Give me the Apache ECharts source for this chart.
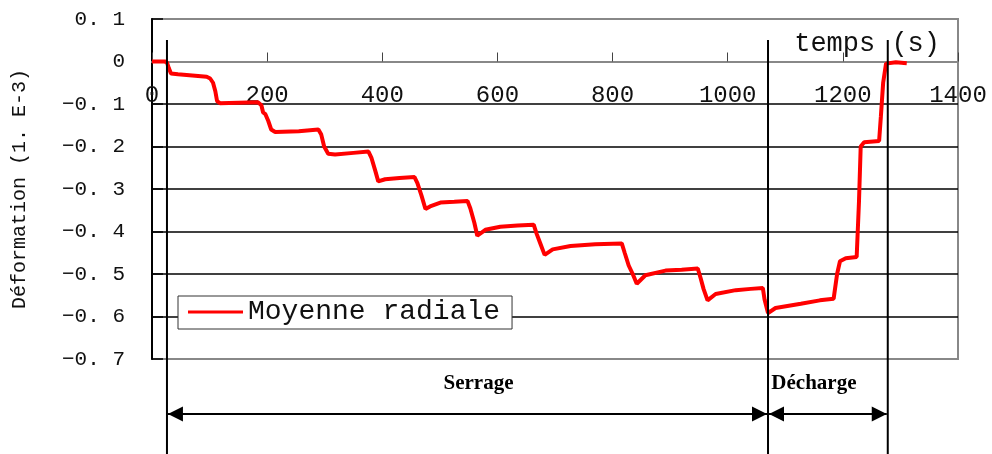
<!DOCTYPE html>
<html>
<head>
<meta charset="utf-8">
<script src="https://cdn.jsdelivr.net/npm/echarts@6/dist/echarts.min.js"></script>
<style>
  html, body { margin: 0; padding: 0; background: #fff; }
  #chart { width: 992px; height: 454px; }
</style>
</head>
<body>
<div id="chart"></div>
<script>
// Radial strain over time (seconds), mean of the radial gauges
const times = [0, 22, 26, 29, 33, 45, 70, 95, 101, 106, 110, 113, 118, 150, 184, 190, 193, 197, 202, 207,
  214, 255, 289, 294, 299, 306, 318, 350, 376, 381, 388, 393, 405, 430, 456, 461, 468, 475, 483, 501,
  525, 548, 553, 560, 565, 579, 605, 635, 663, 668, 675, 682, 696, 727, 770, 816, 821, 828, 835, 842,
  857, 892, 920, 948, 953, 958, 965, 979, 1014, 1040, 1061, 1064, 1070, 1083, 1127, 1160, 1184, 1190, 1195, 1205,
  1224, 1228, 1231, 1237, 1263, 1266, 1270, 1275, 1292, 1311];
const meanRadial = [0, 0, -0.002, -0.015, -0.028, -0.03, -0.033, -0.036, -0.04, -0.05,
  -0.07, -0.093, -0.098, -0.097, -0.096, -0.103, -0.12, -0.124, -0.14, -0.16,
  -0.166, -0.164, -0.16, -0.172, -0.2, -0.217, -0.219, -0.215, -0.212, -0.226,
  -0.258, -0.282, -0.277, -0.274, -0.272, -0.286, -0.315, -0.347, -0.341, -0.332,
  -0.33, -0.328, -0.346, -0.38, -0.41, -0.396, -0.389, -0.386, -0.384, -0.405,
  -0.43, -0.455, -0.442, -0.434, -0.43, -0.428, -0.45, -0.48, -0.5, -0.523,
  -0.503, -0.492, -0.49, -0.487, -0.51, -0.535, -0.562, -0.547, -0.538, -0.535,
  -0.533, -0.56, -0.592, -0.58, -0.57, -0.562, -0.558, -0.5, -0.47, -0.463,
  -0.46, -0.33, -0.2, -0.19, -0.187, -0.13, -0.05, -0.005, -0.002, -0.004];

const yTickLabels = ['\u22120. 7', '\u22120. 6', '\u22120. 5', '\u22120. 4', '\u22120. 3', '\u22120. 2', '\u22120. 1', '0', '0. 1'];
const xTickLabels = ['0', '200', '400', '600', '800', '1000', '1200', '1400'];

// Phase boundaries (s) and phase names
const phaseBounds = [26, 1070, 1278];
const phaseNames = ['Serrage', 'D\u00e9charge'];

const seriesName = 'Moyenne radiale';
const mono = '"Liberation Mono", "DejaVu Sans Mono", monospace';
const serif = '"Liberation Serif", "DejaVu Serif", serif';

const yMin = -0.7, yMax = 0.1;
const gridTop = 19, gridBottom = 95, chartH = 454;

const chart = echarts.init(document.getElementById('chart'), null, { renderer: 'canvas' });

// the time axis sits on the zero strain line; its offset from the top edge of the grid
const plotH = chartH - gridTop - gridBottom;
const zeroOffset = -plotH * (yMax - 0) / (yMax - yMin);

chart.setOption({
  animation: false,
  backgroundColor: '#ffffff',
  grid: {
    left: 152, right: 34, top: gridTop, bottom: gridBottom,
    show: true, borderColor: '#888888', borderWidth: 2, backgroundColor: 'transparent'
  },
  legend: {
    data: [seriesName],
    left: 178, top: 296,
    orient: 'horizontal',
    icon: 'rect',
    itemWidth: 55, itemHeight: 3,
    padding: [2, 12, 3, 10],
    backgroundColor: '#ffffff',
    borderColor: '#333333', borderWidth: 1, borderRadius: 0,
    textStyle: { fontFamily: mono, fontSize: 28, color: '#111', lineHeight: 28 }
  },
  xAxis: {
    type: 'value',
    position: 'top',
    offset: zeroOffset,
    min: 0, max: 1400, interval: 200,
    name: 'temps (s)',
    nameLocation: 'end',
    nameGap: -18,
    nameTextStyle: {
      fontFamily: mono, fontSize: 27, color: '#111',
      align: 'right', verticalAlign: 'bottom', lineHeight: 27, padding: [0, 0, 4, 0]
    },
    axisLine: { onZero: false, lineStyle: { color: '#888888', width: 2 } },
    axisTick: { show: true, inside: false, length: 9, lineStyle: { color: '#444', width: 1 } },
    axisLabel: {
      inside: true,
      margin: 22,
      fontFamily: mono, fontSize: 24, color: '#111',
      showMinLabel: true, showMaxLabel: true,
      formatter: (v, i) => xTickLabels[i]
    },
    splitLine: { show: false }
  },
  yAxis: {
    type: 'value',
    min: yMin, max: yMax, interval: 0.1,
    name: 'D\u00e9formation (1. E-3)',
    nameLocation: 'middle',
    nameRotate: 90,
    nameGap: 122,
    nameTextStyle: { fontFamily: mono, fontSize: 20, color: '#111' },
    axisLine: { show: true, onZero: false, lineStyle: { color: '#000', width: 2 } },
    axisTick: { show: true, inside: true, length: 11, lineStyle: { color: '#000', width: 1.5 } },
    axisLabel: {
      margin: 27,
      fontFamily: mono, fontSize: 21, color: '#111',
      formatter: (v, i) => yTickLabels[i]
    },
    splitLine: {
      show: true,
      lineStyle: {
        color: ['#888888', '#000', '#000', '#000', '#000', '#000', '#000', '#888888', '#888888'],
        width: 1.5
      }
    }
  },
  series: [{
    name: seriesName,
    type: 'line',
    data: times.map((t, i) => [t, meanRadial[i]]),
    showSymbol: false,
    symbol: 'none',
    smooth: false,
    lineStyle: { color: '#ff0000', width: 4 },
    itemStyle: { color: '#ff0000' },
    z: 3
  }]
});

// Phase markers: vertical boundaries, double arrows and phase names
function drawPhases() {
  const xs = phaseBounds.map(t => chart.convertToPixel({ xAxisIndex: 0 }, t));
  const topY = 40, bottomY = 454, arrowY = 414, labelY = 384;
  const head = 15, half = 7.5;
  const els = [];
  xs.forEach(x => {
    els.push({
      type: 'line', silent: true, z: 50,
      shape: { x1: x, y1: topY, x2: x, y2: bottomY },
      style: { stroke: '#000', lineWidth: 2 }
    });
  });
  for (let i = 0; i < xs.length - 1; i++) {
    const a = xs[i] + 1, b = xs[i + 1] - 1;
    els.push({
      type: 'line', silent: true, z: 50,
      shape: { x1: a, y1: arrowY, x2: b, y2: arrowY },
      style: { stroke: '#000', lineWidth: 2 }
    });
    els.push({
      type: 'polygon', silent: true, z: 50,
      shape: { points: [[a, arrowY], [a + head, arrowY - half], [a + head, arrowY + half]] },
      style: { fill: '#000' }
    });
    els.push({
      type: 'polygon', silent: true, z: 50,
      shape: { points: [[b, arrowY], [b - head, arrowY - half], [b - head, arrowY + half]] },
      style: { fill: '#000' }
    });
  }
  phaseNames.forEach((name, i) => {
    const cx = i === 0 ? (xs[0] + xs[1]) / 2 + 11 : (xs[1] + xs[2]) / 2 - 14;
    els.push({
      type: 'text', silent: true, z: 50,
      x: cx, y: labelY,
      style: {
        text: name, fill: '#000',
        font: 'bold 21px ' + serif,
        align: 'center', verticalAlign: 'middle'
      }
    });
  });
  chart.setOption({ graphic: els });
}
drawPhases();
</script>
</body>
</html>
